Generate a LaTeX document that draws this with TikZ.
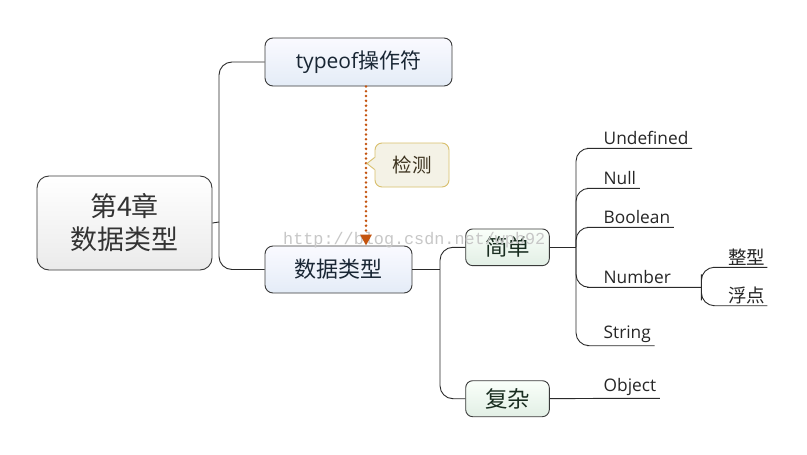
\documentclass[tikz,border=0pt]{standalone}
\usepackage{fontspec}
\setmainfont{Open Sans}
\newfontfamily\cjk{Noto Sans CJK SC}
\newfontfamily\wmfont{Liberation Mono}
\usetikzlibrary{arrows.meta,calc}
\definecolor{bordc}{HTML}{3A3A3A}
\definecolor{linec}{HTML}{2A2A2A}
\definecolor{arrc}{HTML}{C4540F}
\definecolor{callf}{HTML}{F4F2E6}
\definecolor{calld}{HTML}{D8BF6C}
\tikzset{
  box/.style={draw=bordc, line width=0.9pt, align=center, inner sep=0pt},
  rootbox/.style={box, rounded corners=12pt, top color=white, bottom color=black!8, text=black!80, font=\cjk\fontsize{27}{33}\selectfont},
  bluebox/.style={box, rounded corners=8pt, top color=blue!2, bottom color={rgb,255:red,228;green,236;blue,247}, text={rgb,255:red,25;green,38;blue,52}, font=\fontsize{21}{25}\selectfont},
  greenbox/.style={box, rounded corners=7pt, top color=green!2, bottom color={rgb,255:red,226;green,239;blue,229}, text={rgb,255:red,25;green,45;blue,32}, font=\cjk\fontsize{22.5}{26}\selectfont},
  callout/.style={draw=calld, line width=0.9pt, fill=callf, rounded corners=7pt, text={rgb,255:red,60;green,50;blue,30}, font=\cjk\fontsize{19.5}{23}\selectfont, inner sep=0pt},
  conn/.style={draw=linec, line width=0.9pt, rounded corners=13pt},
  leaf/.style={anchor=south west, inner xsep=3.5pt, inner ysep=3pt, text=black!85, font=\fontsize{17.3}{20}\selectfont},
  cleaf/.style={anchor=south west, inner xsep=2pt, inner ysep=2pt, text=black!85, font=\cjk\fontsize{18.5}{22}\selectfont},
  detect/.style={draw=arrc, line width=2.8pt, line cap=round, dash pattern=on 0pt off 4.8pt, -{Triangle[width=11pt,length=11pt]}}
}
\begin{document}
\begin{tikzpicture}[x=1pt,y=-1pt]
\useasboundingbox (0,0) rectangle (807,455);
\fill[white] (0,0) rectangle (807,455);

% main nodes
\node[rootbox, minimum width=175pt, minimum height=94pt] (root) at (124.5,223) {第4章\\数据类型};
\node[bluebox, minimum width=187pt, minimum height=48pt] (typeof) at (358.5,62) {typeof{\cjk 操作符}};
\node[bluebox, minimum width=147pt, minimum height=47pt, font=\cjk\fontsize{22}{26}\selectfont] (dt) at (338.5,269.5) {数据类型};
\node[greenbox, minimum width=83.6pt, minimum height=36.7pt] (simple) at (507.5,247.3) {简单};
\node[greenbox, minimum width=83.6pt, minimum height=36pt] (complex) at (507.5,398.7) {复杂};

% leaves
\node[leaf] (undef) at (600,148.3) {Undefined};
\node[leaf] (null) at (600,188.3) {Null};
\node[leaf] (bool) at (600,227.3) {Boolean};
\node[leaf, minimum width=101pt, align=left, text width=94pt] (num) at (600,287.3) {Number};
\node[leaf] (str) at (600,345.7) {String};
\node[leaf] (obj) at (600,398.4) {Object};
\node[cleaf] (zx) at (726,267.3) {整型};
\node[cleaf] (fd) at (726,305.7) {浮点};

% root connectors
\coordinate (rj) at (219,222);
\draw[conn] (root.east) -- (rj);
\draw[conn] (rj) |- (typeof.west);
\draw[conn] (rj) |- (dt.west);

% data type connectors
\coordinate (dj) at (440,269.5);
\draw[conn] (dt.east) -- (dj);
\draw[conn] (dj) |- (simple.west);
\draw[conn] (dj) |- (complex.west);

% simple connectors
\coordinate (sj) at (576,247.3);
\draw[conn] (simple.east) -- (sj);
\foreach \l in {undef,null,bool,num,str}
  \draw[conn] (sj) |- (\l.south west) -- (\l.south east);

% complex connector
\draw[conn] (complex.east) -- (obj.south west) -- (obj.south east);

% number sub-branches
\draw[conn, rounded corners=13pt] (zx.south east) -- (zx.south west) -| (num.south east) |- (fd.south west) -- (fd.south east);

% watermark
\node[anchor=base west, inner sep=0pt, text=black!22, font=\wmfont\fontsize{16.8}{18}\selectfont] (wm) at (283,244) {http://blog.csdn.net/wpb92};

% detect arrow
\coordinate (ax) at (366,0);
\draw[detect] (typeof.south -| ax) -- (dt.north -| ax);

% callout
\node[callout, minimum width=74pt, minimum height=44pt] (check) at (412,165) {检测};
\fill[callf] (check.west |- 0,157.5) -- (367,163.5) -- (check.west |- 0,169.5) -- ++(1.5,0) -- ++(0,-12) -- cycle;
\draw[calld, line width=0.9pt, line join=miter] (check.west |- 0,157.5) -- (367,163.5) -- (check.west |- 0,169.5);
\end{tikzpicture}
\end{document}
